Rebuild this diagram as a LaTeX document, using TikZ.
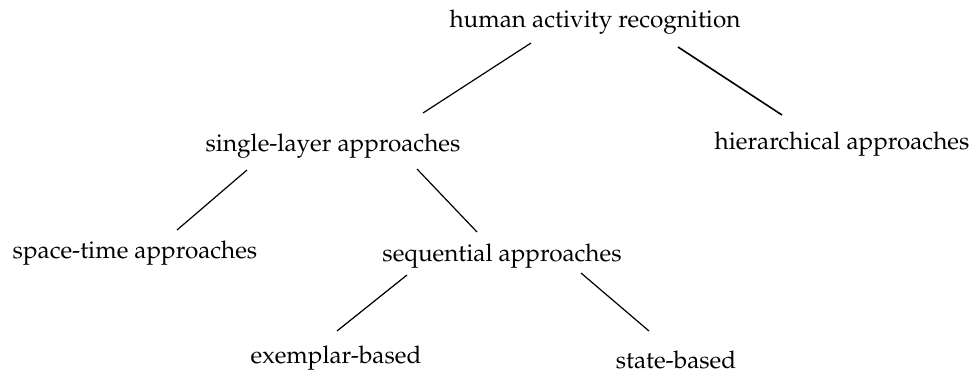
\documentclass[tikz,border=0pt]{standalone}
\usepackage[T1]{fontenc}
\usepackage{mathpazo}
\usetikzlibrary{calc}
\tikzset{
  lbl/.style={anchor=base, inner sep=0pt, font=\fontsize{24.3}{29}\selectfont},
  edge/.style={draw=black, line width=1.2pt},
  thickedge/.style={draw=black, line width=1.6pt}
}
\begin{document}
\begin{tikzpicture}[x=1pt, y=-1pt]
  \useasboundingbox (0,0) rectangle (978,378);
  % taxonomy labels, placed by their baselines
  \node[lbl] (root)   at (595,27)  {human activity recognition};
  \node[lbl] (single) at (333,151) {single-layer approaches};
  \node[lbl] (hier)   at (842,149) {hierarchical approaches};
  \node[lbl] (space)  at (135,258) {space-time approaches};
  \node[lbl] (seq)    at (502,261) {sequential approaches};
  \node[lbl] (exem)   at (336,363) {exemplar-based};
  \node[lbl] (state)  at (676,368) {state-based};
  % tree branches, from below the parent label to above the child label
  \draw[edge]      ($(root.base)+(-64,16)$)   -- ($(single.base)+(90,-38)$);
  \draw[thickedge] ($(root.base)+(83,20)$)    -- ($(hier.base)+(-60,-34)$);
  \draw[edge]      ($(single.base)+(-86,19)$) -- ($(space.base)+(42,-28)$);
  \draw[edge]      ($(single.base)+(84,18)$)  -- ($(seq.base)+(-25,-29)$);
  \draw[edge]      ($(seq.base)+(-95,14)$)    -- ($(exem.base)+(1,-32)$);
  \draw[edge]      ($(seq.base)+(79,12)$)     -- ($(state.base)+(-27,-37)$);
\end{tikzpicture}
\end{document}
